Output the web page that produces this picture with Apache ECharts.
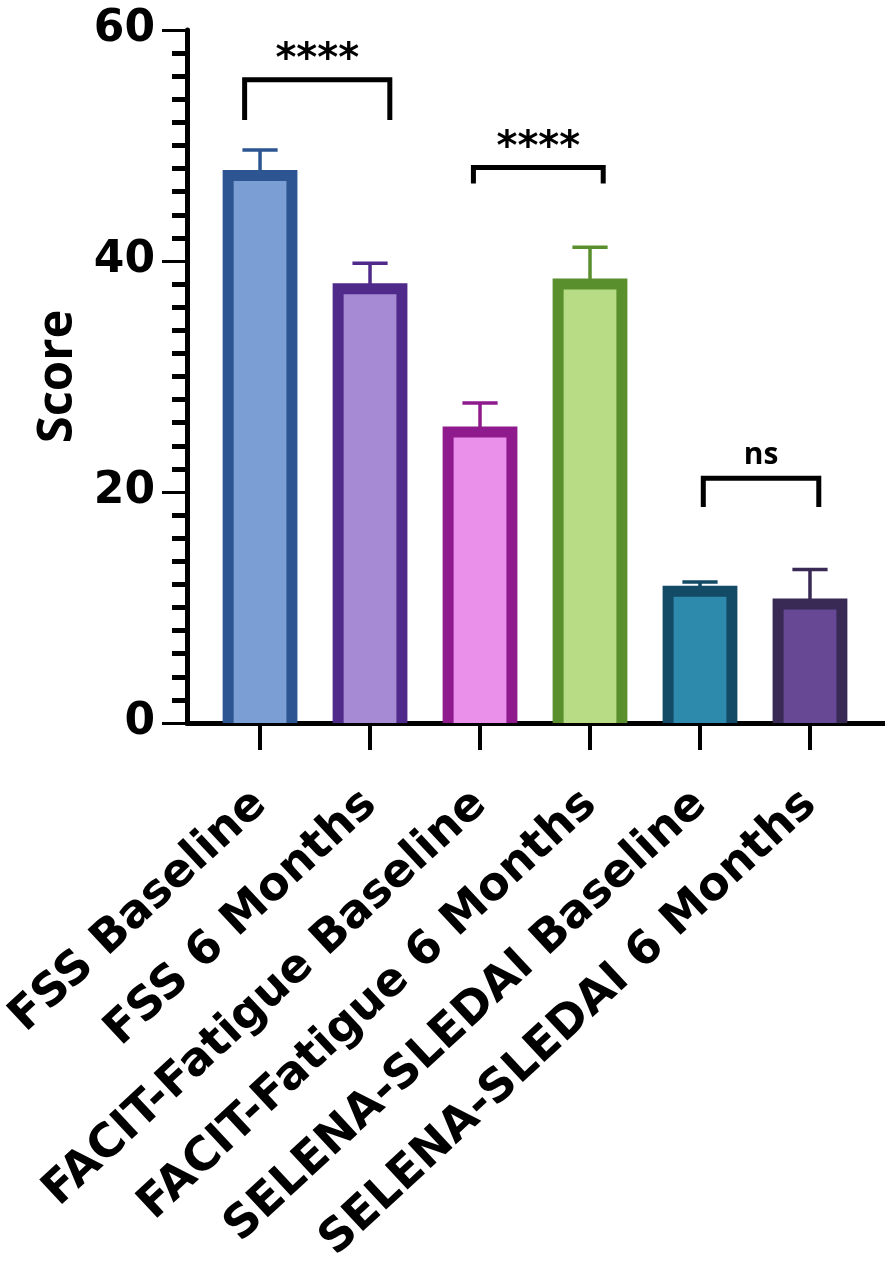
<!DOCTYPE html>
<html>
<head>
<meta charset="utf-8">
<script src="https://cdn.jsdelivr.net/npm/echarts@6/dist/echarts.min.js"></script>
<style>
html,body{margin:0;padding:0;background:#fff;}
#chart{width:885px;height:1272px;}
</style>
</head>
<body>
<div id="chart"></div>
<script>
// ---- data ----
const categories = ['FSS Baseline','FSS 6 Months','FACIT-Fatigue Baseline','FACIT-Fatigue 6 Months','SELENA-SLEDAI Baseline','SELENA-SLEDAI 6 Months'];
const means = [47.4, 37.6, 25.2, 38.0, 11.4, 10.3];
const errors = [2.2, 2.2, 2.5, 3.2, 0.8, 3.0];
const yTicks = [0, 20, 40, 60];
// significance brackets (in data units: start index, end index, top value, leg depth)
const bracketStart = [-0.14, 1.94, 4.03];
const bracketEnd = [1.18, 3.12, 5.08];
const bracketTop = [55.7, 48.1, 21.2];
const bracketLeg = [3.5, 1.4, 2.5];
const bracketLabels = ['****', '****', 'ns'];

// ---- styles ----
const fills = ['#7b9fd4', '#a68ad4', '#ea90ea', '#b8dc86', '#2e8aac', '#664894'];
const borders = ['#2c5591', '#4f2a8a', '#8e1a8e', '#5a8f2e', '#134a66', '#382a54'];
const FONT = 'DejaVu Sans';
const FONT2 = 'Open Sans';

const barData = categories.map((c, i) => [i, means[i], errors[i]]);
const bracketData = bracketLabels.map((t, i) => [bracketStart[i], bracketEnd[i], bracketTop[i], bracketLeg[i], i]);

const chart = echarts.init(document.getElementById('chart'), null, {renderer: 'canvas'});
const catIdx = categories.map((c, i) => i);

const option = {
  backgroundColor: '#ffffff',
  animation: false,
  grid: {left: 187, right: 0, top: 30, bottom: 549, containLabel: false, outerBoundsMode: 'none'},
  xAxis: {
    type: 'value', min: -0.664, max: 5.682,
    axisLine: {show: true, onZero: true, lineStyle: {color: '#000', width: 5}},
    axisTick: {show: true, customValues: catIdx, length: 27, lineStyle: {color: '#000', width: 4}},
    axisLabel: {
      show: true, customValues: catIdx, rotate: 43, margin: 75,
      fontFamily: FONT, fontWeight: 'bold', fontSize: 46, color: '#000',
      formatter: v => categories[Math.round(v)]
    },
    splitLine: {show: false}
  },
  yAxis: {
    type: 'value', min: 0, max: 60, interval: 20,
    name: 'Score', nameLocation: 'middle', nameGap: 104, nameRotate: 90,
    nameTextStyle: {fontFamily: FONT2, fontWeight: 'bold', fontSize: 49, color: '#000'},
    axisLine: {show: true, onZero: false, lineStyle: {color: '#000', width: 5}},
    axisTick: {show: true, length: 25, lineStyle: {color: '#000', width: 3}},
    minorTick: {show: true, splitNumber: 10, length: 15, lineStyle: {color: '#000', width: 5}},
    axisLabel: {margin: 32, fontFamily: FONT, fontWeight: 'bold', fontSize: 44, color: '#000',
      formatter: v => yTicks.indexOf(v) >= 0 ? String(v) : ''},
    splitLine: {show: false}
  },
  series: [
    {
      type: 'custom',
      data: barData,
      z: 3,
      renderItem: function (params, api) {
        const i = api.value(0), v = api.value(1), e = api.value(2);
        const base = api.coord([i, 0]);
        const top = api.coord([i, v]);
        const errTop = api.coord([i, v + e]);
        const spacing = api.size([1, 0])[0];
        const outerW = spacing * 0.68;
        const bw = 11;
        const half = (outerW - bw) / 2;
        const cap = spacing * 0.16;
        const idx = params.dataIndex;
        return {
          type: 'group',
          children: [
            {type: 'line', shape: {x1: top[0], y1: top[1], x2: errTop[0], y2: errTop[1]},
             style: {stroke: borders[idx], lineWidth: 3.5}},
            {type: 'line', shape: {x1: errTop[0] - cap, y1: errTop[1], x2: errTop[0] + cap, y2: errTop[1]},
             style: {stroke: borders[idx], lineWidth: 3.5}},
            {type: 'rect', shape: {x: top[0] - half, y: top[1], width: half * 2, height: base[1] - top[1]},
             style: {fill: fills[idx]}},
            {type: 'polyline', shape: {points: [[top[0] - half, base[1]], [top[0] - half, top[1]], [top[0] + half, top[1]], [top[0] + half, base[1]]]},
             style: {stroke: borders[idx], lineWidth: bw, fill: null, lineJoin: 'miter'}}
          ]
        };
      }
    },
    {
      type: 'custom',
      data: bracketData,
      z: 4,
      renderItem: function (params, api) {
        const s = api.value(0), e = api.value(1), t = api.value(2), l = api.value(3);
        const pTL = api.coord([s, t]);
        const pTR = api.coord([e, t]);
        const pBL = api.coord([s, t - l]);
        const pBR = api.coord([e, t - l]);
        const idx = params.dataIndex;
        const isNs = bracketLabels[idx] === 'ns';
        return {
          type: 'group',
          children: [
            {type: 'polyline', shape: {points: [pBL, pTL, pTR, pBR]},
             style: {stroke: '#000', lineWidth: 5, fill: null, lineJoin: 'miter'}},
            {type: 'text', x: (pTL[0] + pTR[0]) / 2, y: pTL[1] - (isNs ? 8 : -1),
             style: {text: bracketLabels[idx], fill: '#000', align: 'center', verticalAlign: 'bottom',
               font: 'bold ' + (isNs ? 30 : 40) + 'px "' + (isNs ? FONT2 : FONT) + '"'}}
          ]
        };
      }
    }
  ]
};
chart.setOption(option);
</script>
</body>
</html>
